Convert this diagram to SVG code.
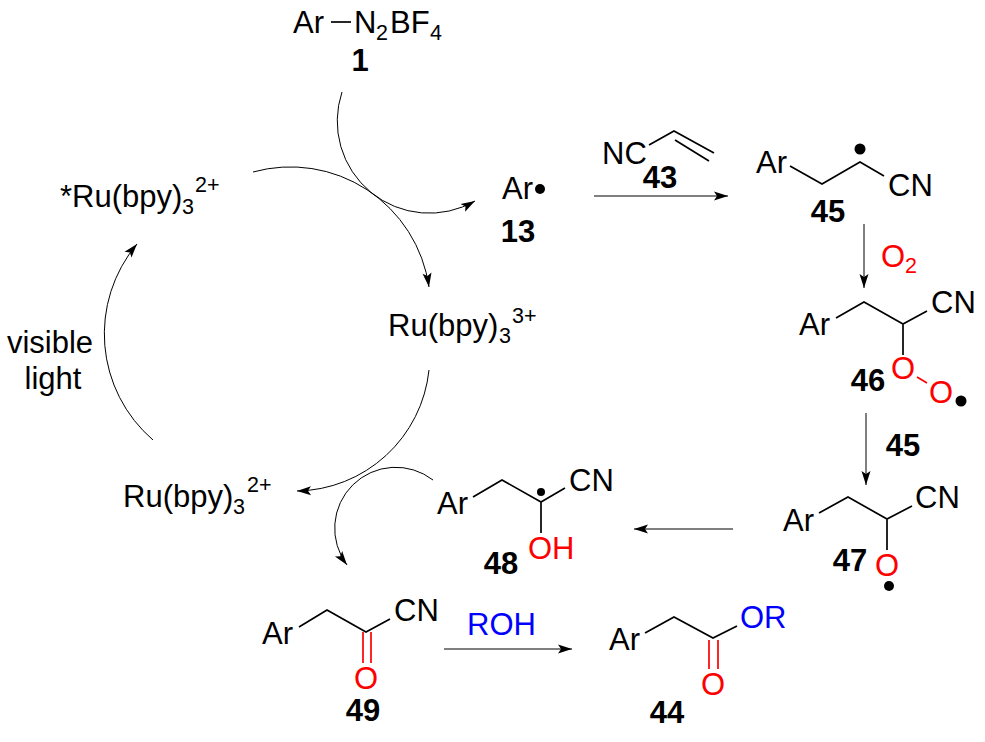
<svg xmlns="http://www.w3.org/2000/svg" width="985" height="742" viewBox="0 0 985 742">
<style>
text{font-family:"Liberation Sans",Arial,sans-serif;font-size:31px;fill:#000}
.n{font-weight:bold;text-anchor:middle}
.s{font-size:21.5px}
.r{fill:#f00}
.bl{fill:#00f}
.b{fill:none;stroke:#000;stroke-width:1.7}
.br{fill:none;stroke:#f00;stroke-width:1.7}
.a{fill:none;stroke:#000;stroke-width:1;marker-end:url(#h)}
</style>
<defs>
<marker id="h" markerUnits="userSpaceOnUse" markerWidth="16" markerHeight="10" refX="15" refY="5" orient="auto"><path d="M15,5 L1,0.5 L4,5 L1,9.5 Z" fill="#000"/></marker>
</defs>
<rect width="985" height="742" fill="#fff"/>
<g id="connectors">
<path class="a" d="M342,92 A92,92 0 0 0 475,201"/>
<path class="a" d="M253,172 A140,140 0 0 1 429,287"/>
<path class="a" d="M429,370 A135,135 0 0 1 297,491"/>
<path class="a" d="M433,480 A61,61 0 0 0 347,565"/>
<path class="a" d="M153,440 A140,140 0 0 1 137,244"/>
<path class="a" d="M594,196 H728"/>
<path class="a" d="M864,224 V288"/>
<path class="a" d="M866,413 V485"/>
<path class="a" d="M733,529 H634"/>
<path class="a" d="M444,649 H572"/>
</g>
<g id="n1">
<text x="293" y="33">Ar</text><path class="b" d="M331,22 H351"/>
<text x="354" y="33">N<tspan class="s" x="376" y="40">2</tspan><tspan x="390" y="33">BF</tspan><tspan class="s" x="430" y="40">4</tspan></text>
<text class="n" x="360" y="71">1</text>
</g>
<g id="n13">
<text x="502" y="199">Ar</text><circle cx="540" cy="189" r="5"/>
<text class="n" x="518" y="242">13</text>
</g>
<g id="ru-excited">
<text x="60" y="207">*Ru(bpy)<tspan class="s" x="182" y="214">3</tspan><tspan class="s" x="195" y="192">2+</tspan></text>
</g>
<g id="ru3">
<text x="388" y="336">Ru(bpy)<tspan class="s" x="499" y="343">3</tspan><tspan class="s" x="512" y="323">3+</tspan></text>
</g>
<g id="ru2">
<text x="123" y="507">Ru(bpy)<tspan class="s" x="233" y="514">3</tspan><tspan class="s" x="247" y="492">2+</tspan></text>
</g>
<g id="light">
<text x="50" y="353" text-anchor="middle">visible</text>
<text x="53" y="389" text-anchor="middle">light</text>
</g>
<g id="n43">
<text x="602" y="164">NC</text>
<path class="b" d="M649,145 L674,131 L714,153 M675,140 L709,161"/>
<text class="n" x="660" y="188">43</text>
</g>
<g id="n45">
<text x="756" y="173">Ar</text>
<path class="b" d="M790,166 L822,184 L860,162 L884,176"/>
<circle cx="860" cy="149" r="5.5"/>
<text x="888" y="196">CN</text>
<text class="n" x="828" y="222">45</text>
</g>
<g id="o2">
<text class="r" x="881" y="267">O<tspan class="s r" x="905" y="273">2</tspan></text>
</g>
<g id="n46">
<text x="799" y="335">Ar</text>
<path class="b" d="M836,318 L864,302 L903,324 L927,311 M903,324 V355"/>
<text x="931" y="313">CN</text>
<text class="r" x="891" y="379">O</text>
<path class="br" d="M917,377 L927,383"/>
<text class="r" x="929" y="403">O</text>
<circle cx="961" cy="401" r="5.5"/>
<text class="n" x="868" y="391">46</text>
</g>
<g id="label45b"><text class="n" x="903" y="456">45</text></g>
<g id="n47">
<text x="783" y="531">Ar</text>
<path class="b" d="M819,513 L848,497 L887,519 L912,506 M887,519 V550"/>
<text x="915" y="508">CN</text>
<text class="r" x="875" y="576">O</text>
<circle cx="889" cy="586" r="5"/>
<text class="n" x="850" y="571">47</text>
</g>
<g id="n48">
<text x="437" y="514">Ar</text>
<path class="b" d="M473,497 L502,480 L541,502 L565,488 M541,502 V533"/>
<circle cx="541" cy="492" r="4"/>
<text x="569" y="491">CN</text>
<text class="r" x="528" y="559">OH</text>
<text class="n" x="501" y="574">48</text>
</g>
<g id="n49">
<text x="262" y="644">Ar</text>
<path class="b" d="M299,627 L327,610 L366,632 L390,619"/>
<text x="394" y="621">CN</text>
<path class="br" d="M363,632 V663 M371,632 V663"/>
<text class="r" x="354" y="689">O</text>
<text class="n" x="363" y="721">49</text>
</g>
<g id="roh"><text class="bl" x="467" y="635">ROH</text></g>
<g id="n44">
<text x="609" y="650">Ar</text>
<path class="b" d="M645,633 L674,617 L713,638 L737,626"/>
<text class="bl" x="740" y="628">OR</text>
<path class="br" d="M709,640 V669 M718,640 V669"/>
<text class="r" x="701" y="695">O</text>
<text class="n" x="667" y="723">44</text>
</g>
</svg>
